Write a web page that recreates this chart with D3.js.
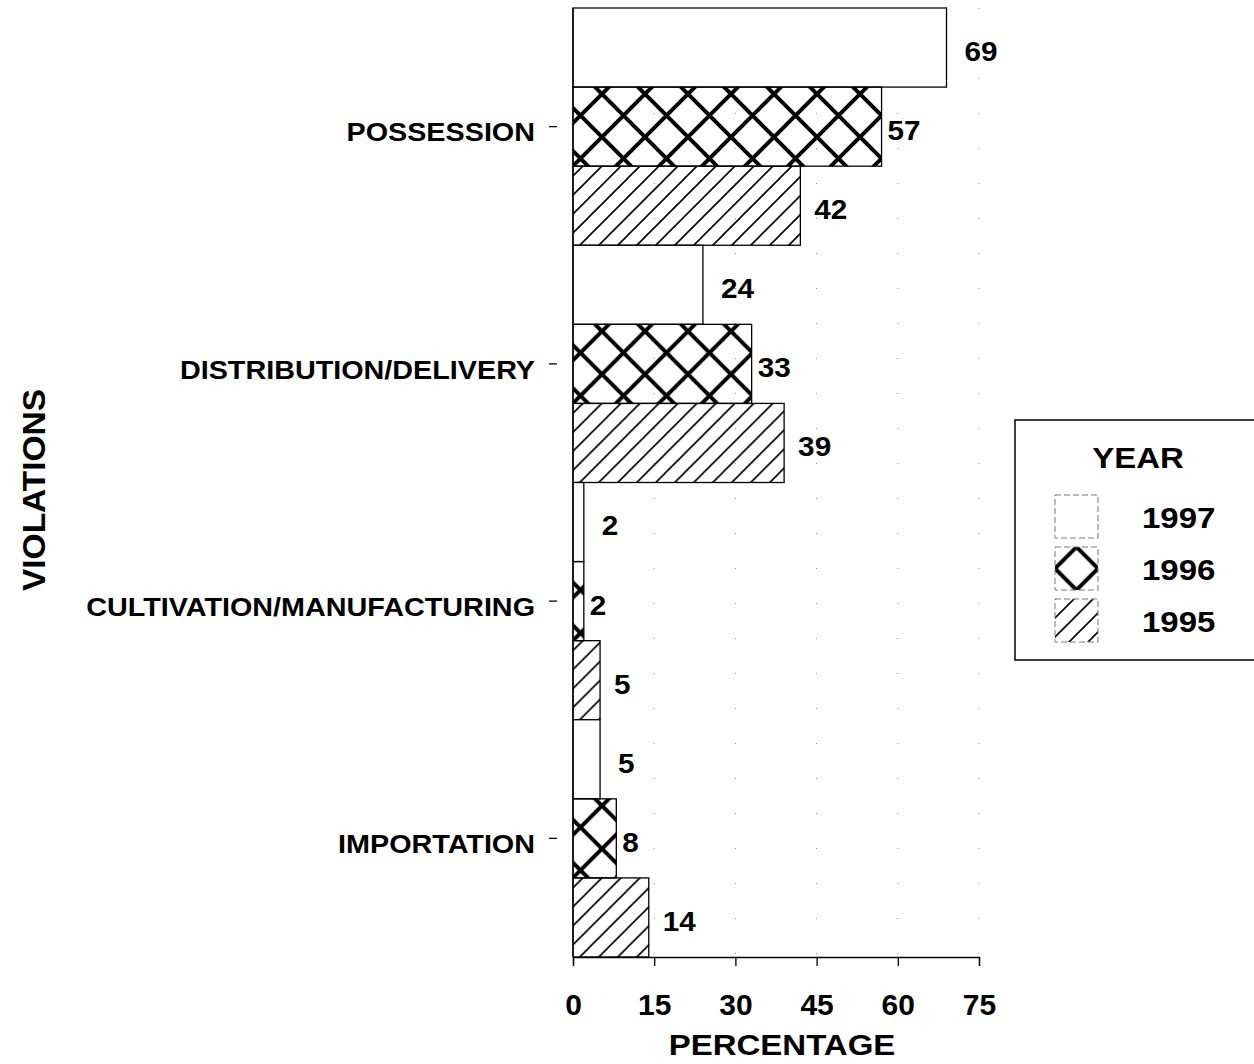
<!DOCTYPE html>
<html>
<head>
<meta charset="utf-8">
<script src="https://cdn.jsdelivr.net/npm/d3@7"></script>
<style>
    body {margin: 0; background: #fff; overflow: hidden;}
    svg {display: block;}
    text {font-family: "Liberation Sans", Arial, sans-serif; font-weight: bold; fill: #000;}
</style>
</head>
<body>
<div id="chart"></div>
<script>
// data
var categories = ["POSSESSION", "DISTRIBUTION/DELIVERY", "CULTIVATION/MANUFACTURING", "IMPORTATION"];
var years      = ["1997", "1996", "1995"];
var values_1997 = [69, 24, 2, 5];
var values_1996 = [57, 33, 2, 8];
var values_1995 = [42, 39, 5, 14];
var x_ticks    = [0, 15, 30, 45, 60, 75];

var width = 1254, height = 1064;
var margin = {top: 8, left: 573, bottom: 107, right: 275};

var series = {"1997": values_1997, "1996": values_1996, "1995": values_1995};
var fills  = {"1997": "#fff", "1996": "url(#cross)", "1995": "url(#hatch)"};
var label_dx = {"1997": 18, "1996": 6, "1995": 14};   // gap between bar end and value label

var svg = d3.select("#chart").append("svg")
    .attr("width", width)
    .attr("height", height);

//Patterns
var defs = svg.append("defs");

var cross = defs.append("pattern")
    .attr("id", "cross")
    .attr("patternUnits", "userSpaceOnUse")
    .attr("width", 43).attr("height", 43);
cross.append("path")
    .attr("d", "M0,0L43,43M43,0L0,43")
    .attr("stroke", "#000").attr("stroke-width", 4).attr("fill", "none");

var hatch = defs.append("pattern")
    .attr("id", "hatch")
    .attr("patternUnits", "userSpaceOnUse")
    .attr("width", 19).attr("height", 19);
hatch.append("path")
    .attr("d", "M0,19L19,0M-5,5L5,-5M14,24L24,14")
    .attr("stroke", "#000").attr("stroke-width", 1.6).attr("fill", "none");

// same cross pattern, shifted half a tile so a legend swatch shows one diamond
var leg_cross = defs.append("pattern")
    .attr("id", "legcross")
    .attr("patternUnits", "userSpaceOnUse")
    .attr("x", 0).attr("y", 21.5)
    .attr("width", 43).attr("height", 43);
leg_cross.append("path")
    .attr("d", "M0,0L43,43M43,0L0,43")
    .attr("stroke", "#000").attr("stroke-width", 4).attr("fill", "none");

//Scales
var x_scale = d3.scaleLinear()
    .domain([0, 75])
    .range([margin.left, width - margin.right]);

var y_scale = d3.scaleBand()
    .domain(categories)
    .range([margin.top, height - margin.bottom])
    .padding(0);

var y_inner = d3.scaleBand()
    .domain(years)
    .range([0, y_scale.bandwidth()])
    .padding(0);

var y_base = y_scale.range()[1];

//Dotted grid
svg.append("g").selectAll("line")
    .data(x_ticks.slice(1))
    .join("line")
    .attr("x1", function(d) {return x_scale(d);})
    .attr("x2", function(d) {return x_scale(d);})
    .attr("y1", margin.top)
    .attr("y2", y_base)
    .attr("stroke", "#888")
    .attr("stroke-width", 1)
    .attr("stroke-dasharray", "1,34");

//Bars
var groups = svg.append("g").selectAll("g")
    .data(categories)
    .join("g")
    .attr("transform", function(d) {return "translate(0," + y_scale(d) + ")";});

function bar_data(c, i) {
    return years.map(function(y) {return {year: y, value: series[y][i]};});
}

groups.selectAll("rect")
    .data(bar_data)
    .join("rect")
    .attr("x", x_scale(0))
    .attr("y", function(d) {return y_inner(d.year);})
    .attr("width", function(d) {return x_scale(d.value) - x_scale(0);})
    .attr("height", y_inner.bandwidth())
    .attr("fill", function(d) {return fills[d.year];})
    .attr("stroke", "#000")
    .attr("stroke-width", 1.3);

groups.selectAll("text")
    .data(bar_data)
    .join("text")
    .attr("transform", function(d) {
        return "translate(" + (x_scale(d.value) + label_dx[d.year]) + "," + (y_inner(d.year) + y_inner.bandwidth() / 2 + 4) + ") scale(1.1,1)";
    })
    .attr("dy", "0.35em")
    .attr("font-size", 27)
    .text(function(d) {return d.value;});

//Y axis
svg.append("line")
    .attr("x1", x_scale(0)).attr("x2", x_scale(0))
    .attr("y1", margin.top).attr("y2", y_base)
    .attr("stroke", "#000").attr("stroke-width", 1.3);

var y_axis = svg.append("g").selectAll("g")
    .data(categories)
    .join("g")
    .attr("transform", function(d) {return "translate(0," + (y_scale(d) + y_inner("1996") + y_inner.bandwidth() / 2) + ")";});

y_axis.append("line")
    .attr("x1", x_scale(0) - 24).attr("x2", x_scale(0) - 16)
    .attr("stroke", "#000").attr("stroke-width", 1.3);

y_axis.append("text")
    .attr("transform", "translate(" + (x_scale(0) - 38) + ",6) scale(1.15,1)")
    .attr("dy", "0.35em")
    .attr("text-anchor", "end")
    .attr("font-size", 25)
    .text(function(d) {return d;});

//X axis
var x_axis = d3.axisBottom(x_scale)
    .tickValues(x_ticks)
    .tickSize(9)
    .tickPadding(28)
    .tickFormat(d3.format("d"));

var xg = svg.append("g")
    .attr("transform", "translate(0," + y_base + ")")
    .call(x_axis);
xg.select(".domain").attr("stroke", "#000").attr("stroke-width", 1.3);
xg.selectAll(".tick line").attr("stroke", "#000").attr("stroke-width", 1.3);
xg.selectAll(".tick text")
    .attr("font-size", 30)
    .attr("font-family", "Liberation Sans, Arial, sans-serif")
    .attr("font-weight", "bold")
    .attr("fill", "#000");

svg.append("text")
    .attr("transform", "translate(" + ((x_scale(0) + x_scale(75)) / 2 + 6) + ",1055) scale(1.1,1)")
    .attr("text-anchor", "middle")
    .attr("font-size", 30)
    .text("PERCENTAGE");

svg.append("text")
    .attr("transform", "translate(45,490) rotate(-90) scale(1.08,1)")
    .attr("text-anchor", "middle")
    .attr("font-size", 31)
    .text("VIOLATIONS");

//Legend
var legend = svg.append("g").attr("transform", "translate(1015,420)");

legend.append("rect")
    .attr("width", 260).attr("height", 240)
    .attr("fill", "#fff")
    .attr("stroke", "#000").attr("stroke-width", 1.5);

legend.append("text")
    .attr("transform", "translate(123,48) scale(1.1,1)")
    .attr("text-anchor", "middle")
    .attr("font-size", 30)
    .text("YEAR");

var leg_fills = {"1997": "#fff", "1996": "url(#legcross)", "1995": "url(#hatch)"};

var items = legend.selectAll("g.item")
    .data(years)
    .join("g")
    .attr("class", "item")
    .attr("transform", function(d, i) {return "translate(40," + (75 + i * 52) + ")";});

items.append("rect")
    .attr("width", 43).attr("height", 43)
    .attr("fill", function(d) {return leg_fills[d];})
    .attr("stroke", "#777")
    .attr("stroke-width", 1)
    .attr("stroke-dasharray", "6,3");

items.append("text")
    .attr("transform", "translate(87,22) scale(1.1,1)")
    .attr("dy", "0.35em")
    .attr("font-size", 30)
    .text(function(d) {return d;});
</script>
</body>
</html>
